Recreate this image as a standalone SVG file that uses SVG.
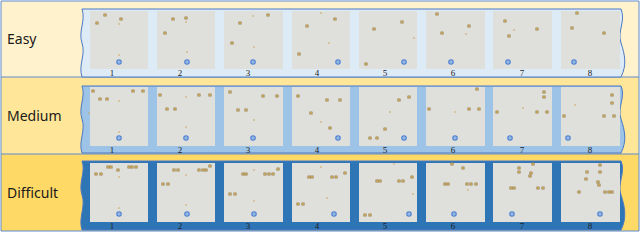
<svg xmlns="http://www.w3.org/2000/svg" xmlns:xlink="http://www.w3.org/1999/xlink" width="640" height="250" viewBox="0 0 640 250">
<style>
.lbl{font-family:"Noto Sans","Open Sans",sans-serif;font-size:14px;fill:#1a1a1a}
.num{font-family:"Liberation Serif",serif;font-size:9px;fill:#222;text-anchor:middle}
.sq{fill:#dfdfdc}
.rowline{stroke:#5b8bd0;stroke-width:1;fill:none}
.pan{stroke:#4a78c8;stroke-width:1}
</style>
<defs>
<g id="d"><rect x="-1.6" y="-1.6" width="3.2" height="3.2" rx="0.6" fill="#9c8350"/><rect x="-0.8" y="-0.8" width="1.6" height="1.6" fill="#d8b460"/></g>
<circle id="t" r="0.8" fill="#c9a25a"/>
<g id="b"><circle r="2.8" fill="#4f82d0"/><path d="M-1.9,0H1.9M0,-1.9V1.9" stroke="#bcd3f1" stroke-width="0.8"/></g>
</defs>
<rect x="0" y="0" width="640" height="250" fill="#ffffff"/>
<!-- row backgrounds -->
<rect x="1" y="1" width="638" height="76" fill="#fff2cc"/>
<rect x="1" y="77" width="638" height="77" fill="#ffe699"/>
<rect x="1" y="154" width="638" height="77" fill="#ffd966"/>
<g id="rowlines">
<path class="rowline" d="M1,1H639V231H1Z M1,77H639 M1,154H639"/>
</g>
<!-- Easy -->
<g id="easy">
<text class="lbl" x="7" y="44">Easy</text>
<path class="pan" fill="#ddebf7" d="M82,9L621,9C626,21 617,31 621,43C625,55 627,65 621,77L82,77C78,65 86,55 82,43C78,31 86,21 82,9Z"/>
<g id="e-sq">
<rect class="sq" x="90" y="11" width="58" height="58"/>
<rect class="sq" x="157" y="11" width="58" height="58"/>
<rect class="sq" x="224" y="11" width="59" height="58"/>
<rect class="sq" x="292" y="11" width="58" height="58"/>
<rect class="sq" x="359" y="11" width="58" height="58"/>
<rect class="sq" x="426" y="11" width="59" height="58"/>
<rect class="sq" x="493" y="11" width="59" height="58"/>
<rect class="sq" x="561" y="11" width="59" height="58"/>
</g>
<g id="e-num">
<text class="num" x="112" y="76">1</text><text class="num" x="180" y="76">2</text><text class="num" x="248" y="76">3</text><text class="num" x="317" y="76">4</text><text class="num" x="385" y="76">5</text><text class="num" x="453" y="76">6</text><text class="num" x="522" y="76">7</text><text class="num" x="590" y="76">8</text>
</g>
<g id="e-dots">
<use xlink:href="#d" x="105" y="15"/><use xlink:href="#d" x="97" y="23"/><use xlink:href="#d" x="121" y="19"/><use xlink:href="#t" x="119" y="24"/><use xlink:href="#t" x="119" y="55"/><use xlink:href="#b" x="119" y="62"/>
<use xlink:href="#d" x="173" y="19"/><use xlink:href="#d" x="186" y="18"/><use xlink:href="#t" x="186" y="22"/><use xlink:href="#d" x="165" y="33"/><use xlink:href="#t" x="187" y="52"/><use xlink:href="#b" x="187" y="62"/>
<use xlink:href="#d" x="268" y="15"/><use xlink:href="#d" x="240" y="23"/><use xlink:href="#t" x="253" y="16"/><use xlink:href="#d" x="232" y="43"/><use xlink:href="#t" x="254" y="47"/><use xlink:href="#b" x="253" y="62"/>
<use xlink:href="#t" x="321" y="13"/><use xlink:href="#d" x="335" y="19"/><use xlink:href="#d" x="307" y="26"/><use xlink:href="#t" x="329" y="43"/><use xlink:href="#d" x="299" y="54"/><use xlink:href="#b" x="338" y="62"/>
<use xlink:href="#d" x="402" y="22"/><use xlink:href="#d" x="374" y="29"/><use xlink:href="#t" x="414" y="38"/><use xlink:href="#d" x="366" y="64"/><use xlink:href="#b" x="404" y="62"/>
<use xlink:href="#d" x="437" y="14"/><use xlink:href="#d" x="469" y="26"/><use xlink:href="#d" x="442" y="33"/><use xlink:href="#t" x="466" y="34"/><use xlink:href="#b" x="451" y="62"/>
<use xlink:href="#d" x="505" y="21"/><use xlink:href="#d" x="537" y="29"/><use xlink:href="#t" x="514" y="30"/><use xlink:href="#d" x="509" y="36"/><use xlink:href="#b" x="508" y="62"/>
<use xlink:href="#d" x="577" y="13"/><use xlink:href="#d" x="572" y="28"/><use xlink:href="#d" x="604" y="33"/><use xlink:href="#b" x="574" y="62"/>
</g>
</g>
<!-- Medium -->
<g id="medium">
<text class="lbl" x="7" y="121">Medium</text>
<path class="pan" fill="#9dc3e6" d="M82,86L621,86C626,97 617,107 621,119C625,131 627,141 621,153L82,153C78,141 86,131 82,119C78,107 86,97 82,86Z"/>
<g id="m-sq">
<rect class="sq" x="90" y="87" width="58" height="59"/>
<rect class="sq" x="157" y="87" width="58" height="59"/>
<rect class="sq" x="224" y="87" width="59" height="59"/>
<rect class="sq" x="292" y="87" width="58" height="59"/>
<rect class="sq" x="359" y="87" width="58" height="59"/>
<rect class="sq" x="426" y="87" width="59" height="59"/>
<rect class="sq" x="493" y="87" width="59" height="59"/>
<rect class="sq" x="561" y="87" width="59" height="59"/>
</g>
<g id="m-num">
<text class="num" x="112" y="153">1</text><text class="num" x="180" y="153">2</text><text class="num" x="248" y="153">3</text><text class="num" x="317" y="153">4</text><text class="num" x="385" y="153">5</text><text class="num" x="453" y="153">6</text><text class="num" x="522" y="153">7</text><text class="num" x="590" y="153">8</text>
</g>
<g id="m-dots">
<use xlink:href="#d" x="93" y="91"/><use xlink:href="#d" x="133" y="91"/><use xlink:href="#d" x="143" y="91"/><use xlink:href="#d" x="100" y="99"/><use xlink:href="#d" x="107" y="99"/><use xlink:href="#t" x="119" y="101"/><use xlink:href="#t" x="89" y="113"/><use xlink:href="#t" x="119" y="132"/><use xlink:href="#b" x="119" y="138"/>
<use xlink:href="#d" x="160" y="95"/><use xlink:href="#d" x="199" y="95"/><use xlink:href="#d" x="210" y="95"/><use xlink:href="#t" x="186" y="97"/><use xlink:href="#d" x="167" y="109"/><use xlink:href="#d" x="175" y="109"/><use xlink:href="#t" x="186" y="127"/><use xlink:href="#b" x="186" y="138"/>
<use xlink:href="#d" x="230" y="92"/><use xlink:href="#d" x="263" y="96"/><use xlink:href="#d" x="277" y="96"/><use xlink:href="#d" x="238" y="110"/><use xlink:href="#d" x="246" y="110"/><use xlink:href="#t" x="254" y="120"/><use xlink:href="#b" x="253" y="138"/>
<use xlink:href="#d" x="298" y="96"/><use xlink:href="#d" x="327" y="100"/><use xlink:href="#d" x="340" y="100"/><use xlink:href="#d" x="311" y="113"/><use xlink:href="#t" x="321" y="122"/><use xlink:href="#d" x="330" y="128"/><use xlink:href="#b" x="338" y="138"/>
<use xlink:href="#d" x="370" y="138"/><use xlink:href="#d" x="377" y="138"/><use xlink:href="#d" x="399" y="100"/><use xlink:href="#d" x="409" y="97"/><use xlink:href="#t" x="390" y="112"/><use xlink:href="#d" x="385" y="129"/><use xlink:href="#b" x="404" y="138"/>
<use xlink:href="#d" x="477" y="89"/><use xlink:href="#d" x="429" y="109"/><use xlink:href="#d" x="469" y="109"/><use xlink:href="#d" x="479" y="109"/><use xlink:href="#t" x="455" y="112"/><use xlink:href="#b" x="455" y="138"/>
<use xlink:href="#d" x="544" y="92"/><use xlink:href="#d" x="544" y="97"/><use xlink:href="#d" x="497" y="112"/><use xlink:href="#d" x="537" y="112"/><use xlink:href="#d" x="547" y="112"/><use xlink:href="#t" x="523" y="108"/><use xlink:href="#b" x="510" y="138"/>
<use xlink:href="#d" x="612" y="95"/><use xlink:href="#d" x="612" y="103"/><use xlink:href="#t" x="575" y="105"/><use xlink:href="#d" x="564" y="116"/><use xlink:href="#d" x="604" y="116"/><use xlink:href="#d" x="614" y="116"/><use xlink:href="#b" x="568" y="138"/>
</g>
</g>
<!-- Difficult -->
<g id="difficult">
<text class="lbl" x="7" y="198">Difficult</text>
<path class="pan" fill="#2e75b6" d="M82,161L621,161C626,172 617,183 621,195C625,207 627,218 621,230L82,230C78,218 86,207 82,195C78,183 86,172 82,161Z"/>
<g id="d-sq">
<rect class="sq" x="90" y="163" width="58" height="59"/>
<rect class="sq" x="157" y="163" width="58" height="59"/>
<rect class="sq" x="224" y="163" width="59" height="59"/>
<rect class="sq" x="292" y="163" width="58" height="59"/>
<rect class="sq" x="359" y="163" width="58" height="59"/>
<rect class="sq" x="426" y="163" width="59" height="59"/>
<rect class="sq" x="493" y="163" width="59" height="59"/>
<rect class="sq" x="561" y="163" width="59" height="59"/>
</g>
<g id="d-num">
<text class="num" x="112" y="229">1</text><text class="num" x="180" y="229">2</text><text class="num" x="248" y="229">3</text><text class="num" x="317" y="229">4</text><text class="num" x="385" y="229">5</text><text class="num" x="453" y="229">6</text><text class="num" x="522" y="229">7</text><text class="num" x="590" y="229">8</text>
</g>
<g id="d-dots">
<use xlink:href="#d" x="108" y="167"/><use xlink:href="#d" x="111" y="167"/><use xlink:href="#d" x="129" y="167"/><use xlink:href="#d" x="132" y="167"/><use xlink:href="#d" x="136" y="167"/><use xlink:href="#d" x="96" y="174"/><use xlink:href="#d" x="101" y="174"/><use xlink:href="#d" x="118" y="170"/><use xlink:href="#t" x="119" y="177"/><use xlink:href="#t" x="119" y="208"/><use xlink:href="#b" x="119" y="214"/>
<use xlink:href="#d" x="210" y="166"/><use xlink:href="#d" x="174" y="170"/><use xlink:href="#d" x="178" y="170"/><use xlink:href="#d" x="199" y="170"/><use xlink:href="#d" x="203" y="170"/><use xlink:href="#d" x="206" y="170"/><use xlink:href="#t" x="186" y="175"/><use xlink:href="#d" x="163" y="184"/><use xlink:href="#d" x="168" y="184"/><use xlink:href="#t" x="186" y="205"/><use xlink:href="#b" x="187" y="214"/>
<use xlink:href="#d" x="278" y="169"/><use xlink:href="#d" x="243" y="174"/><use xlink:href="#d" x="246" y="174"/><use xlink:href="#d" x="265" y="174"/><use xlink:href="#d" x="269" y="174"/><use xlink:href="#d" x="273" y="174"/><use xlink:href="#t" x="254" y="170"/><use xlink:href="#d" x="230" y="194"/><use xlink:href="#d" x="235" y="194"/><use xlink:href="#t" x="254" y="201"/><use xlink:href="#b" x="254" y="214"/>
<use xlink:href="#t" x="321" y="167"/><use xlink:href="#d" x="345" y="173"/><use xlink:href="#d" x="309" y="177"/><use xlink:href="#d" x="312" y="177"/><use xlink:href="#d" x="332" y="177"/><use xlink:href="#d" x="336" y="177"/><use xlink:href="#t" x="327" y="198"/><use xlink:href="#d" x="298" y="204"/><use xlink:href="#d" x="303" y="204"/><use xlink:href="#b" x="334" y="214"/>
<use xlink:href="#t" x="394" y="164"/><use xlink:href="#d" x="412" y="177"/><use xlink:href="#d" x="377" y="181"/><use xlink:href="#d" x="380" y="181"/><use xlink:href="#d" x="399" y="181"/><use xlink:href="#d" x="403" y="181"/><use xlink:href="#t" x="413" y="194"/><use xlink:href="#d" x="365" y="215"/><use xlink:href="#d" x="370" y="215"/><use xlink:href="#b" x="409" y="214"/>
<use xlink:href="#d" x="452" y="164"/><use xlink:href="#d" x="463" y="168"/><use xlink:href="#d" x="445" y="184"/><use xlink:href="#d" x="448" y="184"/><use xlink:href="#d" x="467" y="184"/><use xlink:href="#d" x="471" y="184"/><use xlink:href="#d" x="476" y="184"/><use xlink:href="#t" x="468" y="190"/><use xlink:href="#b" x="454" y="214"/>
<use xlink:href="#d" x="533" y="164"/><use xlink:href="#d" x="519" y="168"/><use xlink:href="#d" x="519" y="172"/><use xlink:href="#d" x="531" y="173"/><use xlink:href="#d" x="530" y="176"/><use xlink:href="#d" x="511" y="188"/><use xlink:href="#d" x="514" y="188"/><use xlink:href="#d" x="538" y="188"/><use xlink:href="#d" x="543" y="188"/><use xlink:href="#b" x="512" y="214"/>
<use xlink:href="#d" x="600" y="165"/><use xlink:href="#d" x="587" y="172"/><use xlink:href="#d" x="600" y="172"/><use xlink:href="#d" x="586" y="179"/><use xlink:href="#d" x="598" y="182"/><use xlink:href="#d" x="599" y="185"/><use xlink:href="#d" x="579" y="192"/><use xlink:href="#d" x="605" y="192"/><use xlink:href="#d" x="609" y="192"/><use xlink:href="#d" x="612" y="192"/><use xlink:href="#b" x="600" y="214"/>
</g>
</g>
</svg>
